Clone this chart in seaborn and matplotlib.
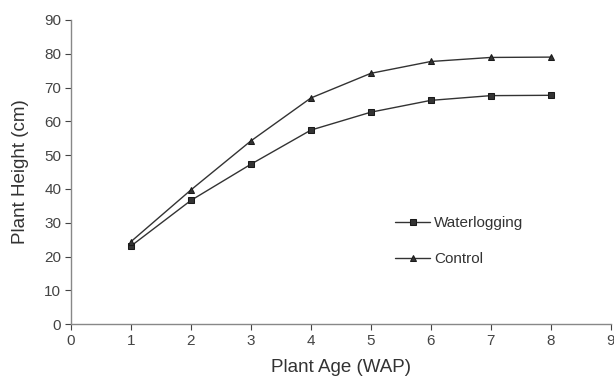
import pandas as pd
import matplotlib.pyplot as plt
import seaborn as sns

weeks = [1, 2, 3, 4, 5, 6, 7, 8]
waterlogging = [23.1, 36.6, 47.3, 57.4, 62.7, 66.2, 67.6, 67.7]
control = [24.4, 39.7, 54.2, 66.9, 74.2, 77.7, 78.9, 79.0]

df = pd.DataFrame({
    "week": weeks * 2,
    "height": waterlogging + control,
    "group": ["Waterlogging"] * len(weeks) + ["Control"] * len(weeks),
})

sns.set_style("ticks")
plt.rcParams["font.family"] = ["Liberation Sans", "DejaVu Sans"]

fig = plt.figure(figsize=(6.14, 3.76), dpi=100)
ax = fig.add_axes([0.1156, 0.138, 0.879, 0.809])

sns.lineplot(data=df, x="week", y="height", style="group", hue="group",
             palette={"Waterlogging": "#333333", "Control": "#333333"},
             markers={"Waterlogging": "s", "Control": "^"},
             dashes=False, markersize=5, linewidth=1.0,
             markeredgecolor="#1a1a1a", ax=ax)

ax.set_xlim(0, 9)
ax.set_ylim(0, 90)
ax.set_xticks(range(0, 10))
ax.set_yticks(range(0, 100, 10))
ax.set_xlabel("Plant Age (WAP)", fontsize=13.5, color="#333333", labelpad=8)
ax.set_ylabel("Plant Height (cm)", fontsize=13.5, color="#333333", labelpad=11)
ax.tick_params(labelsize=11, colors="#444444", length=4, width=0.8, pad=3)
for s in ["left", "bottom"]:
    ax.spines[s].set_color("#888888")
    ax.spines[s].set_linewidth(1.0)
sns.despine(ax=ax)

leg = ax.legend(loc="upper left", bbox_to_anchor=(0.575, 0.40), frameon=False,
                fontsize=11, labelspacing=1.45, handlelength=2.3, handletextpad=0.25)
for t in leg.get_texts():
    t.set_color("#333333")

fig.savefig("out.png", dpi=100)
